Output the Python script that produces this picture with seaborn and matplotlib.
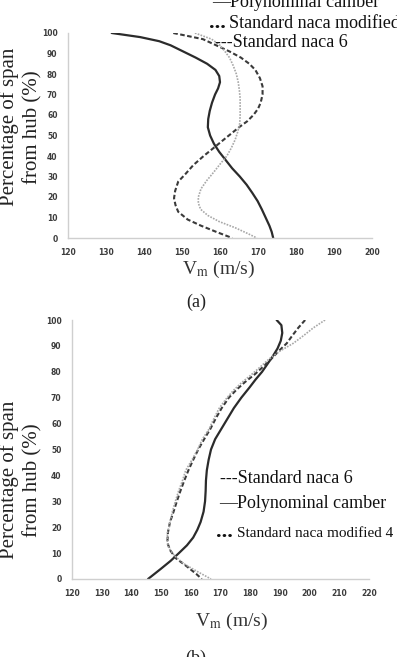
import numpy as np
import pandas as pd
import matplotlib
matplotlib.use("Agg")
import matplotlib.pyplot as plt
import seaborn as sns

# -----------------------------
# 1. DATA
# -----------------------------
# (a) Vm distribution vs percentage of span
a_poly_span = [100, 98, 96, 94, 91, 88, 85, 82, 79, 76, 73, 70, 66, 62, 58, 54, 50,
               46, 42, 38, 34, 30, 26, 22, 18, 14, 10, 6, 3, 0]
a_poly_vm = [131.5, 139, 144, 147, 150.3, 153.6, 156.6, 158.8, 159.8, 160, 159.5, 158.7,
             157.9, 157.3, 156.9, 156.8, 157.4, 158.4, 159.8, 161.5, 163.2, 165.2, 167,
             168.5, 169.9, 171, 172, 173, 173.6, 174]

a_naca6_span = [100, 97, 94, 91, 88, 85, 82, 78, 74, 70, 66, 63, 60, 57, 54, 51, 48,
                44.5, 40, 35.6, 31, 27.5, 23, 19.4, 16, 12.8, 9, 6, 3, 0]
a_naca6_vm = [147.7, 155.5, 159, 162.5, 165.5, 167.7, 169.3, 170.5, 171.2, 171.2, 170.7,
              170, 168.8, 167.2, 165, 163, 161, 158.7, 155.7, 153, 150.8, 149, 148.2,
              147.9, 148.3, 149, 151.5, 155, 159, 163.2]

a_mod_span = [100, 97, 94, 91, 88, 84, 80, 76, 72, 68, 64, 60, 56, 52, 48, 44, 40, 36,
              32, 28, 24, 20, 17, 14, 11, 8, 5, 2, 0]
a_mod_vm = [153.4, 157.8, 160, 161.3, 162.5, 163.5, 164.3, 164.8, 165.1, 165.3, 165.3,
            165.3, 165.2, 164.7, 164, 163, 161.8, 160, 158.3, 156.5, 155, 154.3, 154.3,
            154.9, 156.8, 159.8, 164, 167.5, 169.7]

# (b)
b_poly_span = [100, 98, 95, 92, 89, 86, 83, 80, 77, 74, 70, 66, 62, 58, 54, 50, 46, 42,
               38, 34, 30, 26, 22, 19, 16, 13, 10, 7, 4, 2, 0]
b_poly_vm = [188.9, 190.5, 190.8, 190.3, 189.2, 187.6, 185.8, 184, 181.8, 179.8, 177,
             174.5, 172.4, 170.3, 168.2, 166.8, 166, 165.4, 165.1, 165, 164.8, 164.3,
             163.3, 162.2, 160.8, 158.7, 156, 153.2, 150, 147.8, 145.6]

b_naca6_span = [100, 97, 94, 91, 88, 85, 82, 79, 76, 73, 70, 66, 62, 58, 54, 50, 46, 42,
                38, 34, 30, 26, 22, 18, 14, 11, 8, 5, 2, 0]
b_naca6_vm = [198.5, 196.2, 194.2, 192.3, 189.6, 187.1, 184.4, 181.5, 178.2, 175.3, 172.8,
              170.4, 168.4, 166.6, 164.5, 162.5, 160.8, 159.2, 157.8, 156.5, 155.3, 154.2,
              153, 152.3, 152.1, 153.1, 155, 158.5, 161.8, 163.7]

b_mod_span = [100, 97, 94, 91, 88, 85, 82, 79, 76, 73, 70, 66, 62, 58, 54, 50, 46, 42,
              38, 34, 30, 26, 22, 18, 15, 12, 9, 6, 3, 0]
b_mod_vm = [205.2, 201.3, 198, 194.5, 190, 186.4, 183.5, 180.5, 177.3, 174.5, 172.2,
            169.6, 167.8, 166.2, 163.9, 162.3, 160.4, 158.3, 157.2, 155.9, 154.8, 153.8,
            153, 152.2, 152, 152.6, 154.5, 157.5, 162, 166.8]

a_xticks = list(range(120, 201, 10))
b_xticks = list(range(120, 221, 10))
yticks = list(range(0, 101, 10))

# -----------------------------
# 2. STYLE
# -----------------------------
sns.set_theme(style="white")
plt.rcParams['font.family'] = ['Liberation Serif', 'DejaVu Serif']
plt.rcParams['mathtext.fontset'] = 'stix'

W, H = 397, 657
fig = plt.figure(figsize=(W / 100, H / 100), dpi=100)


def px(x, y):
    return x / W, 1 - y / H


line_styles = {
    'poly': dict(color='#2b2b2b', lw=1.6, ls='-'),
    'naca6': dict(color='#3a3a3a', lw=1.5, ls=(0, (2.2, 1.2))),
    'mod': dict(color='#a8a8a8', lw=1.2, ls=(0, (1, 0.8))),
}


def draw_panel(rect, series, xlim, xticks):
    ax = fig.add_axes(rect)
    for key, (vm, span) in series.items():
        df = pd.DataFrame({'vm': vm, 'span': span})
        st = line_styles[key]
        sns.lineplot(data=df, x='vm', y='span', sort=False, estimator=None,
                     color=st['color'], linewidth=st['lw'], linestyle=st['ls'], ax=ax)
    ax.set_xlim(*xlim)
    ax.set_ylim(0, 100)
    ax.set_xticks(xticks)
    ax.set_yticks(yticks)
    ax.set_xlabel("")
    ax.set_ylabel("")
    for s in ['top', 'right']:
        ax.spines[s].set_visible(False)
    for s in ['left', 'bottom']:
        ax.spines[s].set_color('#cfcfcf')
        ax.spines[s].set_linewidth(1.0)
    ax.tick_params(axis='both', length=3, width=0.8, color='#cfcfcf', direction='inout',
                   labelsize=5.5, labelcolor='#3c3c3c')
    ax.tick_params(axis='x', pad=6)
    ax.tick_params(axis='y', pad=6)
    for lab in ax.get_xticklabels() + ax.get_yticklabels():
        lab.set_family('DejaVu Sans')
        lab.set_fontweight('bold')
    ax.patch.set_alpha(0)
    return ax


# panel (a): x 68..372 px, y 33..238 px
l, b = px(68, 238)
draw_panel([l, b, (372 - 68) / W, (238 - 33) / H],
           {'poly': (a_poly_vm, a_poly_span),
            'naca6': (a_naca6_vm, a_naca6_span),
            'mod': (a_mod_vm, a_mod_span)},
           (120, 200), a_xticks)

# panel (b): x 72..369 px, y 320..579 px
l, b = px(72, 579)
draw_panel([l, b, (369 - 72) / W, (579 - 320) / H],
           {'poly': (b_poly_vm, b_poly_span),
            'naca6': (b_naca6_vm, b_naca6_span),
            'mod': (b_mod_vm, b_mod_span)},
           (120, 220), b_xticks)

# -----------------------------
# 3. TEXTS
# -----------------------------
ylab = "Percentage of span\nfrom hub (%)"
for yc in (127, 480):
    fig.text(*px(21, yc), ylab, rotation=90, ha='center', va='center',
             fontsize=15, multialignment='center', linespacing=1.25, color='#222')

fig.text(*px(219, 269), r"V$_{\mathrm{m}}$ (m/s)", ha='center', va='center',
         fontsize=14, color='#333')
fig.text(*px(232, 621), r"V$_{\mathrm{m}}$ (m/s)", ha='center', va='center',
         fontsize=14, color='#333')

fig.text(*px(196, 302), "(a)", ha='center', va='center', fontsize=13, color='#222')
fig.text(*px(196, 650), "(b)", ha='center', va='top', fontsize=13, color='#222')

# legend (a)
fig.text(*px(212, 7), "\u2014Polynominal camber", ha='left', va='baseline', fontsize=13, color='#111')
fig.text(*px(209, 28), "...", ha='left', va='baseline', fontsize=16, fontweight='bold', color='#111')
fig.text(*px(229, 28), "Standard naca modified", ha='left', va='baseline', fontsize=13, color='#111')
fig.text(*px(215, 47), "---Standard naca 6", ha='left', va='baseline', fontsize=13, color='#111')

# legend (b)
fig.text(*px(220, 483), "---Standard naca 6", ha='left', va='baseline', fontsize=13, color='#111')
fig.text(*px(219, 508), "\u2014Polynominal camber", ha='left', va='baseline', fontsize=13, color='#111')
fig.text(*px(216, 537), "...", ha='left', va='baseline', fontsize=16, fontweight='bold', color='#111')
fig.text(*px(237, 537), "Standard naca modified 4", ha='left', va='baseline', fontsize=11, color='#111')

fig.savefig("out.png", dpi=100)
